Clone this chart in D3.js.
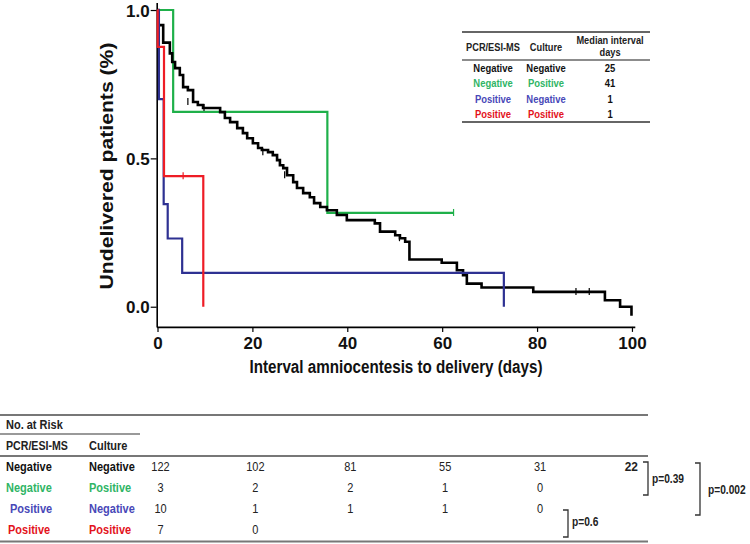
<!DOCTYPE html>
<html><head><meta charset="utf-8">
<script src="https://cdn.jsdelivr.net/npm/d3@7"></script>
<style>body{margin:0;background:#fff}svg{display:block}</style>
</head><body>
<script>
// ---------- data ----------
const groupPCR = ["Negative","Negative","Positive","Positive"];
const groupCulture = ["Negative","Positive","Negative","Positive"];
const groupColors = ["#000000","#1fb04a","#2e3192","#ee1c25"];
const textColors = ["#111111","#2fb565","#4848b8","#e3131c"];
const medianDays = ["25","41","1","1"];

const blackTimes = [0,0.2,1.2,2.6,3.1,3.7,4.7,5.4,6.4,7.5,8.5,9.6,13.2,14.2,15.3,16.8,18.0,18.9,20.1,21.2,22.0,23.3,24.3,25.2,25.8,26.5,27.3,28.6,29.4,30.7,32.1,33.0,34.3,35.7,37.8,39.9,45.8,46.9,50.1,51.1,52.2,53.1,59.9,63.1,64.4,65.2,68.3,79.2,94.3,97.5,99.9];
const blackSurv  = [1,0.949,0.89,0.854,0.825,0.804,0.781,0.74,0.73,0.69,0.68,0.67,0.656,0.636,0.622,0.602,0.585,0.568,0.551,0.535,0.528,0.521,0.511,0.494,0.477,0.467,0.443,0.42,0.40,0.383,0.369,0.349,0.336,0.325,0.309,0.292,0.281,0.253,0.241,0.231,0.219,0.159,0.148,0.123,0.106,0.078,0.065,0.05,0.022,0.0,-0.03];
const blackCensT = [6.4,9.8,22.2,26.8,51.0,88.2,91.0];
const blackCensS = [0.69,0.67,0.521,0.443,0.231,0.05,0.05];

const greenTimes = [0,3.3,35.8,62.4];
const greenSurv  = [1,0.657,0.316,0.316];
const greenCensT = [62.4];
const greenCensS = [0.316];

const blueTimes = [0,0.3,1.3,2.15,5.2,73.0];
const blueSurv  = [1,0.70,0.346,0.23,0.114,0];

const redTimes = [0,0.04,1.37,9.65];
const redSurv  = [1,0.876,0.44,0];
const redCensT = [5.4];
const redCensS = [0.44];

const xTicks = [0,20,40,60,80,100];
const yTicks = [0,0.5,1];
const riskDays = [0,20,40,60,80,100];
const riskNumbers = [
  ["122","102","81","55","31","22"],
  ["3","2","2","1","0",""],
  ["10","1","1","1","0",""],
  ["7","0","","","",""]
];
const pLabels = ["p=0.39","p=0.002","p=0.6"];

// ---------- setup ----------
const W = 750, H = 544;
const svg = d3.select("body").append("svg").attr("width", W).attr("height", H);
const FONT = "'Liberation Sans', Arial, sans-serif";

const x = d3.scaleLinear().domain([-0.17, 100.6]).range([156.7, 634.8]);
const y = d3.scaleLinear().domain([-0.068, 1.025]).range([326.9, 2.6]);

function txt(g, px, py, s, o) {
  o = o || {};
  const t = g.append("text")
    .attr("transform", `translate(${px},${py}) scale(${o.sx || 1},1)` + (o.rot ? ` rotate(${o.rot})` : ""))
    .attr("font-family", FONT)
    .attr("font-size", o.size || 12)
    .attr("font-weight", o.weight || "bold")
    .attr("fill", o.fill || "#111")
    .attr("text-anchor", o.anchor || "start")
    .text(s);
  return t;
}

// ---------- axes ----------
const gx = svg.append("g").attr("transform", `translate(0,${y(-0.068)})`)
  .call(d3.axisBottom(x).tickValues(xTicks).tickSize(5).tickSizeOuter(0).tickFormat(d3.format("d")));
const gy = svg.append("g").attr("transform", `translate(${x(-0.17)},0)`)
  .call(d3.axisLeft(y).tickValues(yTicks).tickSize(6).tickSizeOuter(0).tickFormat(d3.format(".1f")));
[gx, gy].forEach(g => {
  g.select(".domain").attr("stroke", "#000").attr("stroke-width", 1.6);
  g.selectAll(".tick line").attr("stroke", "#000").attr("stroke-width", 1.2);
  g.selectAll(".tick text").attr("font-family", FONT).attr("font-size", 17)
    .attr("font-weight", "bold").attr("fill", "#111");
});
gx.selectAll(".tick text").attr("dy", "0.95em").attr("y", 6);
gy.selectAll(".tick text").attr("x", -7).attr("dy", "0.36em");

txt(svg, 396, 373, "Interval amniocentesis to delivery (days)", {size: 18, anchor: "middle"})
  .attr("textLength", 293).attr("lengthAdjust", "spacingAndGlyphs");
svg.append("text")
  .attr("transform", "translate(113,166) rotate(-90)")
  .attr("font-family", FONT).attr("font-size", 18).attr("font-weight", "bold")
  .attr("fill", "#111").attr("text-anchor", "middle")
  .attr("textLength", 247).attr("lengthAdjust", "spacingAndGlyphs")
  .text("Undelivered patients (%)");

// ---------- curves ----------
const line = d3.line().x(d => x(d[0])).y(d => y(d[1])).curve(d3.curveStepAfter);
function curve(times, surv, color, w) {
  const pts = times.map((t, i) => [t, surv[i]]);
  svg.append("path").datum(pts).attr("d", line)
    .attr("fill", "none").attr("stroke", color).attr("stroke-width", w)
    .attr("stroke-linejoin", "miter");
}
function cens(times, surv, color, w) {
  svg.append("g").selectAll("line").data(times).join("line")
    .attr("x1", d => x(d)).attr("x2", d => x(d))
    .attr("y1", (d, i) => y(surv[i]) - 4).attr("y2", (d, i) => y(surv[i]) + 3)
    .attr("stroke", color).attr("stroke-width", w);
}
curve(greenTimes, greenSurv, groupColors[1], 2.2);
curve(blackTimes, blackSurv, groupColors[0], 2.6);
curve(blueTimes, blueSurv, groupColors[2], 2.2);
curve(redTimes, redSurv, groupColors[3], 2.2);
cens(blackCensT, blackCensS, "#000", 1.2);
cens(greenCensT, greenCensS, groupColors[1], 1.2);
cens(redCensT, redCensS, groupColors[3], 1.2);

// ---------- legend table ----------
const lg = svg.append("g");
const lx0 = 462, lx1 = 650;
[[32, 2], [60, 1.6], [122, 2]].forEach(([yy, w]) =>
  lg.append("line").attr("x1", lx0).attr("x2", lx1).attr("y1", yy).attr("y2", yy)
    .attr("stroke", "#666").attr("stroke-width", w));
const legCol = [493, 546, 610];
txt(lg, legCol[0], 50.5, "PCR/ESI-MS", {size: 10.5, anchor: "middle", sx: 0.88, fill: "#222"});
txt(lg, legCol[1], 50.5, "Culture", {size: 10.5, anchor: "middle", sx: 0.88, fill: "#222"});
txt(lg, legCol[2], 43.5, "Median interval", {size: 10.5, anchor: "middle", sx: 0.88, fill: "#222"});
txt(lg, legCol[2], 55.5, "days", {size: 10.5, anchor: "middle", sx: 0.88, fill: "#222"});
const legRowY = [72, 87, 102.5, 118];
groupPCR.forEach((s, i) => {
  txt(lg, legCol[0], legRowY[i], s, {size: 10.5, anchor: "middle", sx: 0.9, fill: textColors[i]});
  txt(lg, legCol[1], legRowY[i], groupCulture[i], {size: 10.5, anchor: "middle", sx: 0.9, fill: textColors[i]});
  txt(lg, legCol[2], legRowY[i], medianDays[i], {size: 10.5, anchor: "middle", sx: 0.9, fill: "#111"});
});

// ---------- risk table ----------
const rg = svg.append("g");
[[0, 648, 415, 2], [0, 140, 434, 1.6], [0, 648, 456, 2], [0, 648, 541.5, 2]].forEach(([a, b, yy, w]) =>
  rg.append("line").attr("x1", a).attr("x2", b).attr("y1", yy).attr("y2", yy)
    .attr("stroke", "#777").attr("stroke-width", w));
txt(rg, 6, 429, "No. at Risk", {size: 12.5, sx: 0.88, fill: "#222"});
txt(rg, 6, 450, "PCR/ESI-MS", {size: 12.5, sx: 0.85, fill: "#222"});
txt(rg, 89, 450, "Culture", {size: 12.5, sx: 0.88, fill: "#222"});
const riskRowY = [471, 492, 513, 534];
const pcrX = [6, 6, 10, 8];
groupPCR.forEach((s, i) => {
  txt(rg, pcrX[i], riskRowY[i], s, {size: 12.5, sx: 0.88, fill: textColors[i]});
  txt(rg, 89, riskRowY[i], groupCulture[i], {size: 12.5, sx: 0.88, fill: textColors[i]});
  riskNumbers[i].forEach((n, j) => {
    if (n === "") return;
    const last = j === riskDays.length - 1;
    txt(rg, x(riskDays[j]) + (last ? 6 : 3), riskRowY[i], n,
      {size: last ? 13.5 : 12.5, weight: last ? "bold" : "normal", anchor: last ? "end" : "middle", sx: 0.88, fill: "#222"});
  });
});
// p-value brackets
function bracket(xr, y0, y1, label, tx, ty) {
  rg.append("path").attr("d", `M${xr - 5},${y0}H${xr}V${y1}H${xr - 5}`)
    .attr("fill", "none").attr("stroke", "#333").attr("stroke-width", 1.3);
  txt(rg, tx, ty, label, {size: 12, sx: 0.85, fill: "#222"});
}
bracket(648, 462, 495, pLabels[0], 652, 483);
bracket(700, 463, 515, pLabels[1], 708, 494);
bracket(568, 510, 537, pLabels[2], 572, 526);
</script>
</body></html>
